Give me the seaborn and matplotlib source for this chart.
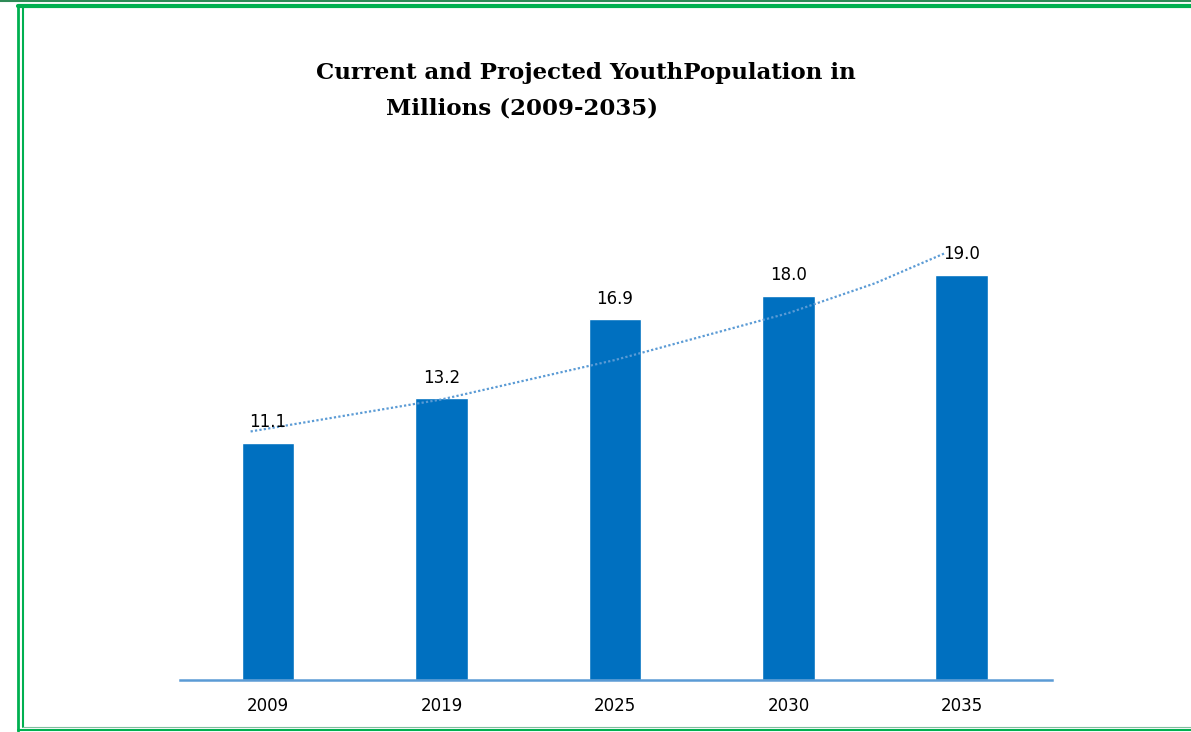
import matplotlib
matplotlib.use("Agg")
import matplotlib.pyplot as plt
from matplotlib.lines import Line2D
import seaborn as sns
import pandas as pd

# Youth population data (millions)
years = ["2009", "2019", "2025", "2030", "2035"]
population = [11.1, 13.2, 16.9, 18.0, 19.0]

# dotted trend line (x in category units)
trend_x = [-0.1, 1.0, 2.0, 3.0, 3.5, 3.9]
trend_y = [11.65, 13.15, 15.0, 17.2, 18.6, 20.0]

df = pd.DataFrame({"Year": years, "Population": population})

sns.set_style("white")

fig = plt.figure(figsize=(11.91, 7.32), dpi=100)
ax = fig.add_axes([180 / 1191, 1 - 680 / 732, 872 / 1191, 480 / 732])

sns.barplot(data=df, x="Year", y="Population", color="#0070C0",
            saturation=1, width=0.305, ax=ax)

ax.plot(trend_x, trend_y, color="#5B9BD5", linewidth=1.6,
        linestyle=(0, (1, 1)), zorder=3)

for i, v in enumerate(population):
    ax.text(i, v + 0.55, f"{v:.1f}", ha="center", va="bottom",
            fontsize=12, color="black")

ax.set_xlim(-0.507, 4.519)
ax.set_ylim(0, 22.5)
ax.set_xlabel("")
ax.set_ylabel("")
ax.set_yticks([])
ax.tick_params(axis="x", length=0, labelsize=12, pad=12, labelcolor="black")
for s in ["top", "left", "right"]:
    ax.spines[s].set_visible(False)
ax.spines["bottom"].set_color("#5B9BD5")
ax.spines["bottom"].set_linewidth(1.8)

# title (two lines, second line indented)
fig.text(316 / 1191, 1 - 73 / 732, "Current and Projected YouthPopulation in",
         family="DejaVu Serif", weight="bold", fontsize=16.5, color="black",
         ha="left", va="center")
fig.text(386 / 1191, 1 - 108 / 732, "Millions (2009-2035)",
         family="DejaVu Serif", weight="bold", fontsize=16.5, color="black",
         ha="left", va="center")

# green double border
W, H = 1191, 732
def px_line(x0, y0, x1, y1, lw, color):
    fig.add_artist(Line2D([x0 / W, x1 / W], [1 - y0 / H, 1 - y1 / H],
                          transform=fig.transFigure, color=color, lw=lw))

px_line(0, 1, W, 1, 1.5, "#2E8B57")
px_line(18, 6, W, 6, 3, "#00B050")
px_line(18, 5, 18, 731, 2, "#00B050")
px_line(23, 8, 23, 727, 1.5, "#00B050")
px_line(18, 730, W, 730, 1.5, "#00B050")
px_line(23, 727, W, 727, 0.8, "#7FBF9F")

fig.savefig("out.png", dpi=100)
